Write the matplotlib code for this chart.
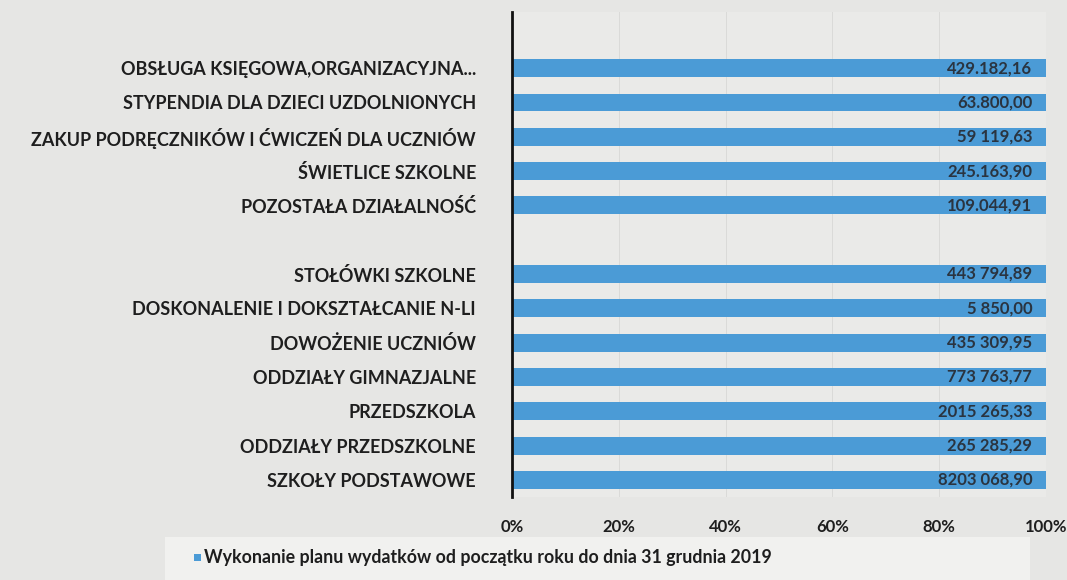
import matplotlib
matplotlib.use("Agg")
import matplotlib.pyplot as plt
from matplotlib.patches import Rectangle

plt.rcParams['font.family'] = ['Lato', 'DejaVu Sans']

categories = [
    "SZKOŁY PODSTAWOWE",
    "ODDZIAŁY PRZEDSZKOLNE",
    "PRZEDSZKOLA",
    "ODDZIAŁY GIMNAZJALNE",
    "DOWOŻENIE UCZNIÓW",
    "DOSKONALENIE I DOKSZTAŁCANIE N-LI",
    "STOŁÓWKI SZKOLNE",
    "",
    "POZOSTAŁA DZIAŁALNOŚĆ",
    "ŚWIETLICE SZKOLNE",
    "ZAKUP PODRĘCZNIKÓW I ĆWICZEŃ DLA UCZNIÓW",
    "STYPENDIA DLA DZIECI UZDOLNIONYCH",
    "OBSŁUGA KSIĘGOWA,ORGANIZACYJNA...",
]
shares = [100, 100, 100, 100, 100, 100, 100, 0, 100, 100, 100, 100, 100]
value_labels = [
    "8203 068,90",
    "265 285,29",
    "2015 265,33",
    "773 763,77",
    "435 309,95",
    "5 850,00",
    "443 794,89",
    "",
    "109.044,91",
    "245.163,90",
    "59 119,63",
    "63.800,00",
    "429.182,16",
]
xticks = [0, 20, 40, 60, 80, 100]
xtick_labels = ["0%", "20%", "40%", "60%", "80%", "100%"]
legend_label = "Wykonanie planu wydatków od początku roku do dnia 31 grudnia 2019"

bar_color = "#4b9bd6"
bg = "#e6e6e4"

fig = plt.figure(figsize=(10.67, 5.8), dpi=100, facecolor=bg)
ax = fig.add_axes([0.48, 0.143, 0.50, 0.836])
ax.set_facecolor("#eaeae8")

y = list(range(len(categories)))
ax.barh(y, shares, height=0.52, color=bar_color, zorder=2)

for yi, lab, s in zip(y, value_labels, shares):
    if lab:
        ax.text(s - 2.5, yi, lab, ha="right", va="center", fontsize=12,
                fontweight="bold", color="#2a3440", zorder=3)

ax.set_xlim(0, 100)
ax.set_ylim(-0.5, 13.63)
ax.set_yticks(y)
ax.set_yticklabels(categories, fontsize=13, fontweight="bold", color="#1e1e1e")
ax.set_xticks(xticks)
ax.set_xticklabels(xtick_labels, fontsize=12, fontweight="bold", color="#1e1e1e")
ax.tick_params(axis="y", length=0, pad=26)
ax.tick_params(axis="x", length=0, pad=16)
ax.grid(axis="x", color="#dadad8", linewidth=0.7, zorder=0)
for side in ["top", "right", "bottom"]:
    ax.spines[side].set_visible(False)
ax.spines["left"].set_color("#111111")
ax.spines["left"].set_linewidth(2)
ax.spines["left"].set_zorder(4)

# legend box
fig.patches.append(Rectangle((0.155, 0.0), 0.81, 0.075, transform=fig.transFigure,
                             facecolor="#f1f1ef", edgecolor="none", zorder=-5))
fig.patches.append(Rectangle((0.182, 0.032), 0.006, 0.012, transform=fig.transFigure,
                             facecolor=bar_color, edgecolor="none", zorder=-4))
fig.text(0.191, 0.038, legend_label, fontsize=12.8, fontweight="bold",
         color="#1e1e1e", va="center", ha="left")

fig.savefig("out.png", dpi=100, facecolor=bg)
